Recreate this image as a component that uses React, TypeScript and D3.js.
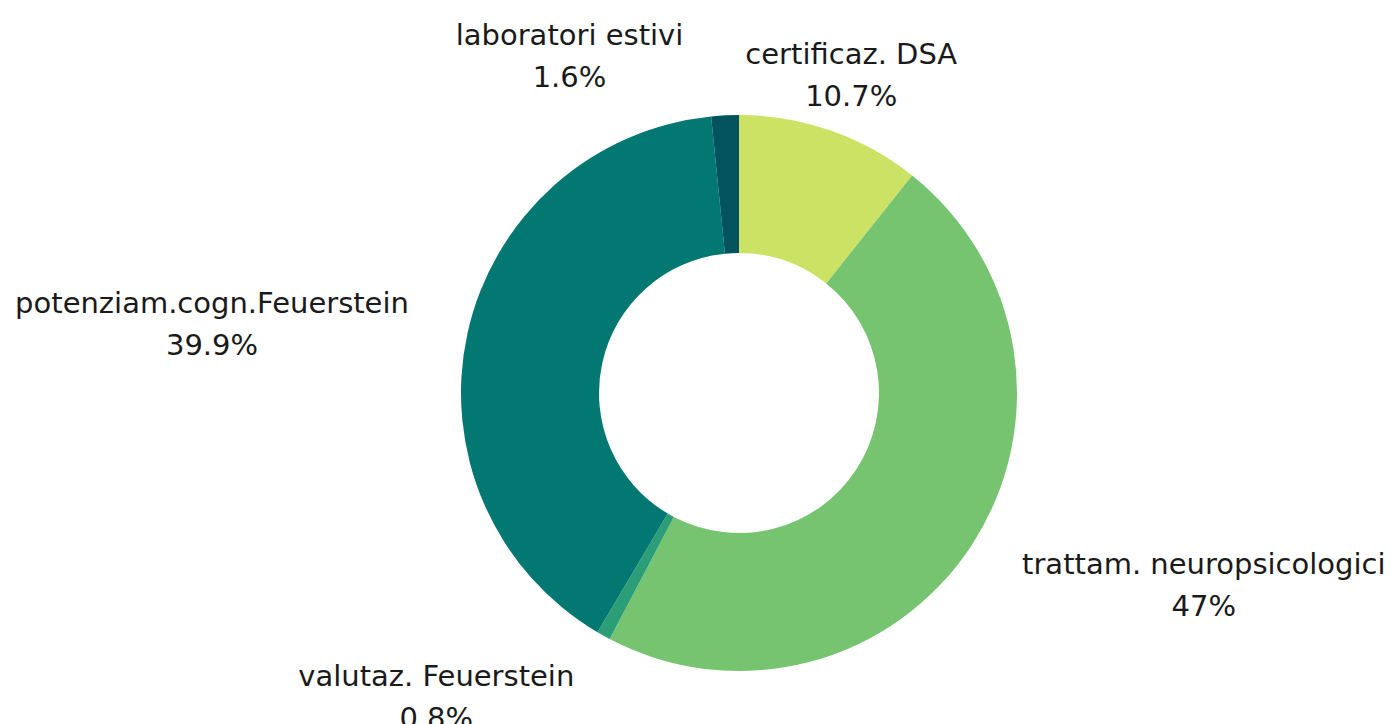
import React from "react";
import * as d3 from "d3";

const categories = [
  "certificaz. DSA",
  "trattam. neuropsicologici",
  "valutaz. Feuerstein",
  "potenziam.cogn.Feuerstein",
  "laboratori estivi",
];
const values = [10.7, 47, 0.8, 39.9, 1.6];
const valueLabels = ["10.7%", "47%", "0.8%", "39.9%", "1.6%"];
const colors = ["#cbe265", "#76c470", "#2b9e78", "#037771", "#03535f"];

const W = 1397;
const H = 724;
const FONT = "DejaVu Sans";
const FS = 29;
const LINE = 42;

function measure(text: string): number {
  if (typeof document === "undefined") return text.length * FS * 0.55;
  const c = document.createElement("canvas").getContext("2d");
  if (!c) return text.length * FS * 0.55;
  c.font = `${FS}px "${FONT}"`;
  return c.measureText(text).width;
}

export default function App() {
  const cx = 739;
  const cy = 393;
  const outerR = 278;
  const innerR = 140;

  const pie = d3
    .pie<number>()
    .sort(null)
    .value((d) => d);
  const arcs = pie(values);
  const arc = d3.arc<d3.PieArcDatum<number>>().innerRadius(innerR).outerRadius(outerR);
  const labelR = 310;

  type Lab = { x0: number; x1: number; y1: number; i: number; w: number };
  const labs: Lab[] = arcs.map((a, i) => {
    const mid = (a.startAngle + a.endAngle) / 2;
    const s = Math.sin(mid);
    const c = Math.cos(mid);
    const ax = cx + labelR * s;
    const ay = cy - labelR * c;
    const w = Math.max(measure(categories[i]), measure(valueLabels[i]));
    let x0: number;
    const sideGap = 28 * Math.abs(s);
    if (Math.abs(s) < 0.4) {
      const center = ax + 10 * Math.sign(s);
      x0 = center - w / 2;
    } else if (s > 0) {
      x0 = ax + sideGap;
    } else {
      x0 = ax - sideGap - w;
    }
    const y1 = ay - 6 - 32 * c;
    return { x0, x1: x0 + w, y1, i, w };
  });

  // simple collision resolution: push overlapping labels apart horizontally
  const gap = 62;
  for (let k = 0; k < labs.length; k++) {
    for (let j = 0; j < labs.length; j++) {
      if (k === j) continue;
      const a = labs[k];
      const b = labs[j];
      const vOverlap = Math.abs(a.y1 - b.y1) < LINE * 2;
      const hOverlap = a.x0 < b.x1 + gap && b.x0 < a.x1 + gap;
      if (vOverlap && hOverlap && a.i > b.i) {
        const aMid = (a.x0 + a.x1) / 2;
        const bMid = (b.x0 + b.x1) / 2;
        if (aMid <= bMid) {
          a.x1 = b.x0 - gap;
          a.x0 = a.x1 - a.w;
        } else {
          a.x0 = b.x1 + gap;
          a.x1 = a.x0 + a.w;
        }
      }
    }
  }

  return (
    <svg
      width={W}
      height={H}
      style={{ position: "absolute", left: 0, top: 0, background: "#ffffff" }}
    >
      <g transform={`translate(${cx},${cy})`}>
        {arcs.map((a, i) => (
          <path key={i} d={arc(a) || ""} fill={colors[i]} />
        ))}
      </g>
      {labs.map((l) => {
        const x = (l.x0 + l.x1) / 2;
        return (
          <text
            key={l.i}
            x={x}
            textAnchor="middle"
            fontFamily={FONT}
            fontSize={FS}
            fill="#1a1a1a"
          >
            <tspan x={x} y={l.y1}>
              {categories[l.i]}
            </tspan>
            <tspan x={x} y={l.y1 + LINE}>
              {valueLabels[l.i]}
            </tspan>
          </text>
        );
      })}
    </svg>
  );
}
